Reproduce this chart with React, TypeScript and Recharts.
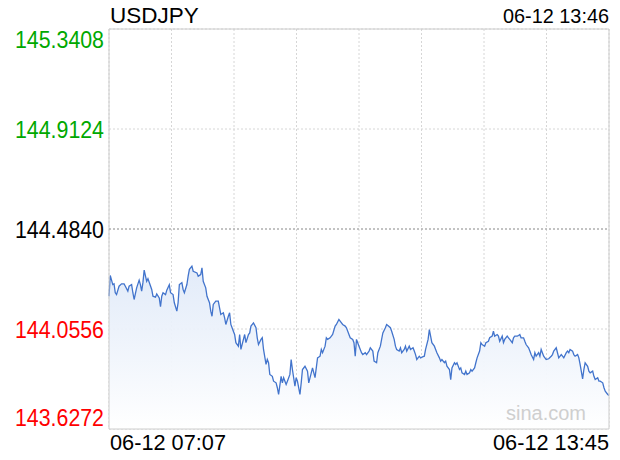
import { ComposedChart, Area, XAxis, YAxis, CartesianGrid, ReferenceLine, ReferenceArea } from "recharts"

// minutes after 06-12 07:07
const minuteOffsets = [
  0, 1, 3, 4, 5, 6, 8, 10, 12, 13, 15, 16, 18, 19, 20, 22, 24, 25, 26, 27, 28, 30, 31, 32, 34, 35, 37, 38, 40, 41,
  42, 43, 45, 46, 48, 49, 51, 52, 54, 55, 56, 58, 59, 60, 62, 63, 64, 66, 67, 70, 71, 73, 74, 75, 77, 78, 80, 81, 82, 83,
  85, 87, 88, 89, 91, 92, 93, 95, 96, 97, 99, 100, 101, 103, 104, 105, 107, 108, 109, 111, 112, 113, 115, 117, 118, 119, 121, 122, 123, 125,
  126, 127, 128, 130, 131, 133, 134, 135, 137, 138, 139, 141, 142, 144, 145, 146, 148, 149, 150, 152, 153, 154, 156, 158, 159, 161, 162, 164, 165, 166,
  168, 169, 170, 172, 173, 174, 176, 178, 180, 181, 183, 184, 186, 188, 189, 191, 192, 194, 195, 196, 197, 199, 201, 202, 204, 205, 207, 208, 210, 211,
  213, 214, 216, 217, 218, 220, 221, 222, 224, 225, 227, 228, 229, 231, 232, 233, 235, 236, 237, 239, 240, 242, 243, 244, 245, 247, 248, 250, 251, 252,
  254, 255, 256, 257, 259, 260, 261, 263, 264, 265, 267, 268, 269, 271, 272, 273, 275, 276, 277, 279, 280, 281, 283, 284, 285, 287, 288, 289, 291, 292,
  293, 295, 296, 297, 299, 300, 302, 303, 305, 306, 307, 309, 310, 311, 313, 314, 315, 317, 318, 319, 321, 322, 323, 325, 326, 327, 328, 330, 331, 332,
  334, 335, 336, 338, 339, 340, 342, 343, 344, 346, 347, 348, 350, 352, 353, 354, 356, 357, 358, 360, 361, 362, 364, 365, 366, 367, 369, 370, 371, 373,
  374, 375, 377, 378, 379, 381, 382, 383, 385, 386, 387, 389, 390, 391, 393, 394, 395, 397, 398,
]

const prices = [
  144.196, 144.285, 144.246, 144.249, 144.211, 144.203, 144.239, 144.249, 144.249, 144.239, 144.218, 144.239, 144.246, 144.211, 144.182, 144.232, 144.265, 144.246, 144.218, 144.254, 144.308, 144.26, 144.271, 144.256, 144.225, 144.196, 144.192, 144.206, 144.189, 144.151,
  144.196, 144.211, 144.203, 144.222, 144.245, 144.211, 144.203, 144.168, 144.132, 144.168, 144.246, 144.254, 144.225, 144.211, 144.246, 144.282, 144.311, 144.325, 144.303, 144.296, 144.282, 144.289, 144.318, 144.26, 144.232, 144.196, 144.168, 144.132, 144.11, 144.161,
  144.175, 144.175, 144.146, 144.118, 144.125, 144.104, 144.075, 144.11, 144.125, 144.075, 144.046, 144.032, 143.997, 143.982, 144.032, 143.968, 144.011, 144.032, 143.997, 144.032, 144.039, 144.068, 144.082, 144.061, 144.018, 143.989, 144.011, 144.018, 143.968, 143.904,
  143.925, 143.911, 143.861, 143.853, 143.832, 143.825, 143.804, 143.775, 143.853, 143.825, 143.847, 143.818, 143.832, 143.861, 143.925, 143.882, 143.811, 143.847, 143.832, 143.775, 143.825, 143.882, 143.896, 143.875, 143.825, 143.868, 143.889, 143.847, 143.889, 143.932,
  143.939, 143.968, 143.954, 143.982, 144.018, 144.011, 144.018, 144.032, 144.068, 144.075, 144.096, 144.089, 144.075, 144.068, 144.061, 144.032, 144.018, 144.011, 143.997, 143.939, 144.011, 143.982, 143.954, 143.946, 143.954, 143.946, 143.961, 143.975, 143.961, 143.918,
  143.911, 143.954, 143.982, 144.011, 144.039, 144.061, 144.075, 144.071, 144.061, 144.046, 144.011, 143.982, 143.968, 143.961, 143.975, 143.954, 143.968, 143.982, 143.961, 143.982, 143.968, 143.975, 143.961, 143.946, 143.925, 143.939, 143.932, 143.937, 143.939, 143.968,
  144.011, 144.053, 144.025, 143.997, 143.982, 143.968, 143.954, 143.932, 143.918, 143.925, 143.911, 143.918, 143.896, 143.882, 143.839, 143.889, 143.911, 143.904, 143.911, 143.882, 143.889, 143.868, 143.861, 143.875, 143.861, 143.868, 143.882, 143.875, 143.889, 143.911,
  143.932, 143.961, 143.997, 143.989, 143.982, 143.997, 144.003, 144.018, 144.025, 144.046, 144.025, 144.032, 144.025, 144.003, 144.025, 143.997, 144.011, 144.025, 144.018, 144.011, 143.997, 144.018, 144.025, 144.025, 144.028, 144.032, 144.018, 144.018, 144.003, 143.989,
  143.975, 143.961, 143.946, 143.925, 143.954, 143.939, 143.954, 143.939, 143.968, 143.939, 143.932, 143.925, 143.928, 143.939, 143.946, 143.961, 143.975, 143.954, 143.932, 143.946, 143.939, 143.932, 143.954, 143.961, 143.954, 143.968, 143.961, 143.946, 143.939, 143.946,
  143.932, 143.904, 143.842, 143.882, 143.911, 143.896, 143.875, 143.868, 143.875, 143.853, 143.839, 143.847, 143.832, 143.832, 143.825, 143.804, 143.789, 143.775, 143.771,
]

const yTicks = [143.6272, 144.0556, 144.484, 144.9124, 145.3408]
const prevClose = 144.484
const xTicks = [0, 49.75, 99.5, 149.25, 199, 248.75, 298.5, 348.25, 398]
const startLabel = "06-12 07:07"
const endLabel = "06-12 13:45"
const symbol = "USDJPY"
const updatedAt = "06-12 13:46"

const data = minuteOffsets.map((minute, i) => ({ minute, price: prices[i] }))

const FONT = '"Liberation Sans", Arial, sans-serif'

function PriceTick(props: any) {
  const { x, y, payload } = props
  const v = payload.value
  const color = v > prevClose ? "#00a800" : v < prevClose ? "#f00" : "#000"
  let dy = 8.5
  if (v === yTicks[yTicks.length - 1]) dy = 18.5
  if (v === yTicks[0]) dy = -3
  return (
    <text x={x} y={y + dy} textAnchor="end" fill={color} fontSize={23.5} fontFamily={FONT} textLength={89} lengthAdjust="spacingAndGlyphs">
      {v.toFixed(4)}
    </text>
  )
}

function TimeTick(props: any) {
  const { x, y, index } = props
  if (index !== 0 && index !== xTicks.length - 1) return null
  const first = index === 0
  return (
    <text x={first ? x + 1 : x} y={y + 21} textAnchor={first ? "start" : "end"} fill="#000" fontSize={22} fontFamily={FONT} textLength={116} lengthAdjust="spacingAndGlyphs">
      {first ? startLabel : endLabel}
    </text>
  )
}

export default function App() {
  return (
    <div style={{ position: "absolute", left: 0, top: 0, width: 620, height: 460, background: "#fff" }}>
      <ComposedChart width={620} height={460} data={data} margin={{ top: 29, right: 11, bottom: 0, left: 0 }}>
        <defs>
          <linearGradient id="priceFill" x1="0" y1="0" x2="0" y2="1">
            <stop offset="0%" stopColor="#dfe9f8" stopOpacity={0.9} />
            <stop offset="100%" stopColor="#ffffff" stopOpacity={1} />
          </linearGradient>
        </defs>
        <CartesianGrid stroke="#d6d6d6" strokeDasharray="2 2" />
        <XAxis
          dataKey="minute"
          type="number"
          domain={[0, 398]}
          ticks={xTicks}
          axisLine={false}
          tickLine={false}
          tickSize={0}
          tickMargin={0}
          height={31}
          interval={0}
          tick={<TimeTick />}
        />
        <YAxis
          type="number"
          domain={[yTicks[0], yTicks[yTicks.length - 1]]}
          ticks={yTicks}
          axisLine={false}
          tickLine={false}
          tickSize={0}
          tickMargin={5}
          width={109}
          interval={0}
          tick={<PriceTick />}
        />
        <Area
          type="linear"
          dataKey="price"
          stroke="#4274cc"
          strokeWidth={1.3}
          fill="url(#priceFill)"
          fillOpacity={1}
          dot={false}
          activeDot={false}
          isAnimationActive={false}
        />
        <ReferenceLine y={prevClose} stroke="#9a9a9a" strokeDasharray="2 2" />
        <ReferenceArea x1={0} x2={398} y1={yTicks[0]} y2={yTicks[yTicks.length - 1]} fill="none" stroke="#cccccc" strokeWidth={1} />
      </ComposedChart>
      <svg width={620} height={460} style={{ position: "absolute", left: 0, top: 0, pointerEvents: "none" }}>
        <text x={110} y={23} fontSize={22.5} fontFamily={FONT} fill="#000">
          {symbol}
        </text>
        <text x={609} y={23} textAnchor="end" fontSize={19.5} fontFamily={FONT} fill="#000" textLength={106} lengthAdjust="spacingAndGlyphs">
          {updatedAt}
        </text>
        <text x={506} y={420} fontSize={20} fontFamily={FONT} fill="#cfcfcf">
          sina.com
        </text>
      </svg>
    </div>
  )
}
